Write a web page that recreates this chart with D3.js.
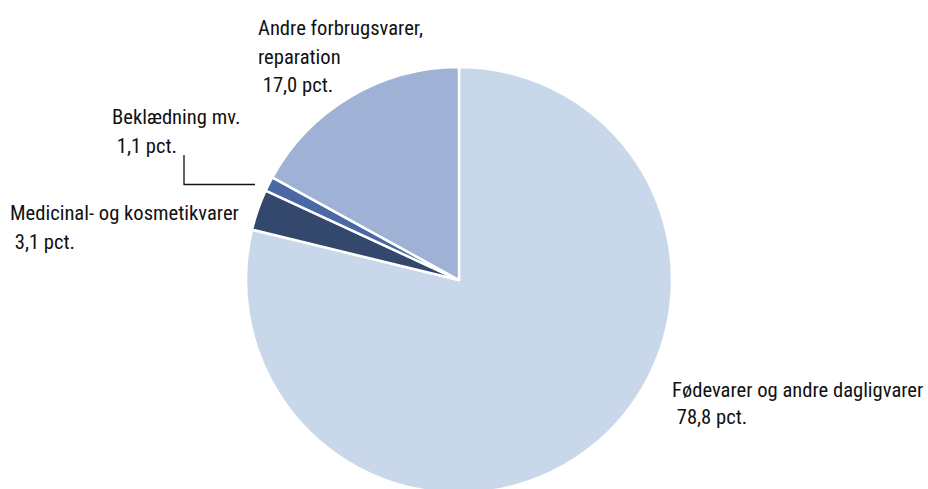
<!DOCTYPE html>
<html>
<head>
<meta charset="utf-8">
<script src="https://cdn.jsdelivr.net/npm/d3@7"></script>
<style>
  body { margin: 0; background: #fff; }
  text { font-family: "Roboto Condensed", sans-serif; font-size: 20.6px; fill: #111; white-space: pre; }
</style>
</head>
<body>
<svg id="pie"></svg>
<script>
// Data
const categories = ["Fødevarer og andre dagligvarer", "Medicinal- og kosmetikvarer", "Beklædning mv.", "Andre forbrugsvarer, reparation"];
const values = [78.8, 3.1, 1.1, 17.0];
const valueLabels = ["78,8 pct.", "3,1 pct.", "1,1 pct.", "17,0 pct."];
const colors = ["#c8d7ea", "#34476c", "#4a69a4", "#9fb1d5"];

let width = 928;
let height = 489;
let cx = 459, cy = 280, radius = 213;

let svg = d3.select("#pie")
    .attr("width", width)
    .attr("height", height);

let pie = d3.pie().sort(null).value(d => d);
let arc = d3.arc().innerRadius(0).outerRadius(radius);

let g = svg.append("g").attr("transform", `translate(${cx},${cy})`);

g.selectAll("path")
    .data(pie(values))
    .enter().append("path")
    .attr("d", arc)
    .attr("fill", (d, i) => colors[i])
    .attr("stroke", "#fff")
    .attr("stroke-width", 2.5)
    .attr("stroke-linejoin", "round");

// Labels (lines of text placed beside the slices)
let labels = [
    { lines: ["Fødevarer og andre dagligvarer", " " + valueLabels[0]], x: 672, y: 397, dy: 27 },
    { lines: ["Medicinal- og kosmetikvarer", " " + valueLabels[1]], x: 10, y: 220, dy: 28.5 },
    { lines: ["Beklædning mv.", " " + valueLabels[2]], x: 112, y: 124, dy: 28.5 },
    { lines: ["Andre forbrugsvarer,", "reparation", " " + valueLabels[3]], x: 258, y: 35, dy: 28.5 }
];

labels.forEach(l => {
    let t = svg.append("text").attr("x", l.x).attr("y", l.y);
    l.lines.forEach((s, j) => {
        t.append("tspan")
            .attr("x", l.x)
            .attr("dy", j === 0 ? 0 : l.dy)
            .text(s);
    });
});

// leader line for Beklædning
svg.append("path")
    .attr("d", "M184,155 V184.5 H255")
    .attr("fill", "none")
    .attr("stroke", "#111")
    .attr("stroke-width", 1.3);
</script>
</body>
</html>
